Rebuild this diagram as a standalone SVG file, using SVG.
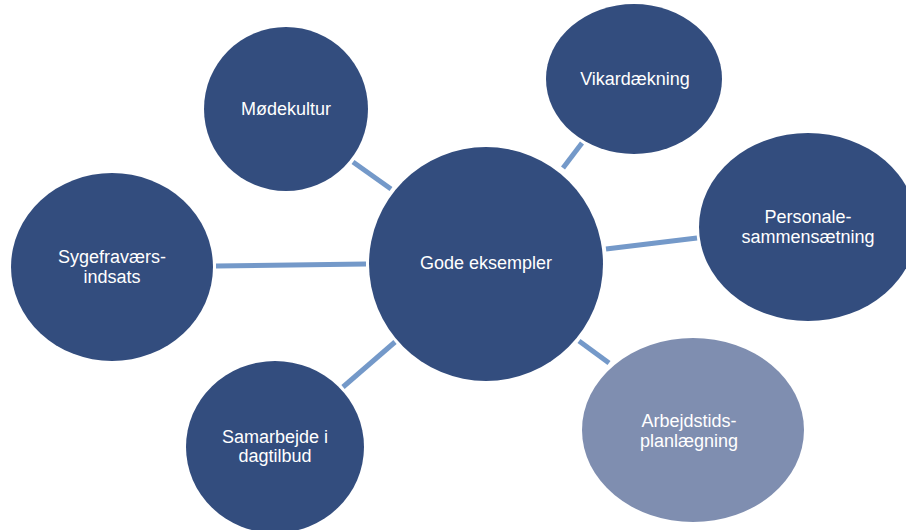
<svg xmlns="http://www.w3.org/2000/svg" width="906" height="530" viewBox="0 0 906 530">
<style>
.n{fill:#334D7E}
.l{fill:#7F8EB0}
.c line{stroke:#7499C9;stroke-width:5}
text{font-family:"Liberation Sans",Arial,sans-serif;font-size:18px;fill:#FFFFFF;text-anchor:middle}
</style>
<rect width="906" height="530" fill="#FFFFFF"/>
<g id="connectors" class="c">
<line x1="353" y1="162" x2="391" y2="189"/>
<line x1="582" y1="143" x2="563" y2="168"/>
<line x1="697" y1="238" x2="606" y2="249"/>
<line x1="216" y1="266" x2="366" y2="264"/>
<line x1="343" y1="387" x2="395" y2="342"/>
<line x1="609" y1="363" x2="579" y2="341"/>
</g>
<g id="center">
<circle class="n" cx="486" cy="264" r="117"/>
<text x="486" y="269">Gode eksempler</text>
</g>
<g id="modekultur">
<ellipse class="n" cx="286" cy="109" rx="82" ry="82"/>
<text x="286" y="115">Mødekultur</text>
</g>
<g id="vikardaekning">
<ellipse class="n" cx="634" cy="79" rx="88" ry="75"/>
<text x="635" y="85">Vikardækning</text>
</g>
<g id="personale">
<ellipse class="n" cx="808" cy="227" rx="109" ry="94"/>
<text x="808" y="223">Personale-</text>
<text x="808" y="243">sammensætning</text>
</g>
<g id="sygefravaer">
<ellipse class="n" cx="112" cy="267" rx="101" ry="94"/>
<text x="112" y="263">Sygefraværs-</text>
<text x="112" y="283">indsats</text>
</g>
<g id="samarbejde">
<ellipse class="n" cx="275" cy="447" rx="89" ry="86"/>
<text x="275" y="443">Samarbejde i</text>
<text x="275" y="462">dagtilbud</text>
</g>
<g id="arbejdstid">
<ellipse class="l" cx="693" cy="430" rx="111" ry="92"/>
<text x="689" y="427">Arbejdstids-</text>
<text x="689" y="447">planlægning</text>
</g>
</svg>
